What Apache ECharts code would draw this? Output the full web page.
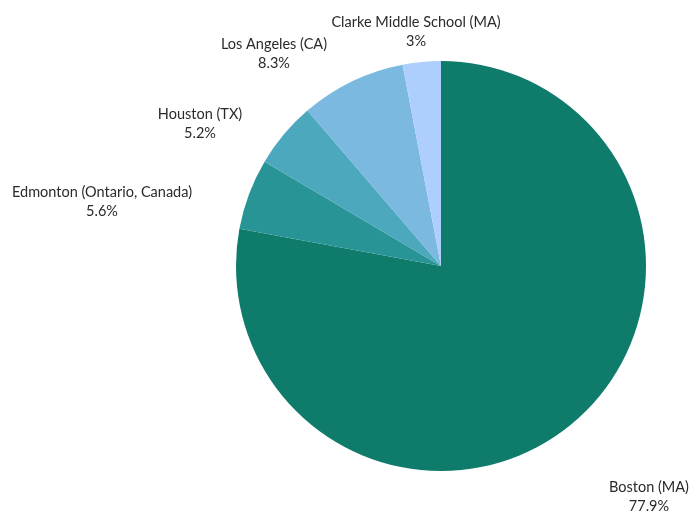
<!DOCTYPE html>
<html>
<head>
<meta charset="utf-8">
<script src="https://cdn.jsdelivr.net/npm/echarts@6/dist/echarts.min.js"></script>
<style>
html,body{margin:0;padding:0;background:#fff;}
#chart{width:697px;height:513px;}
</style>
</head>
<body>
<div id="chart"></div>
<script>
// Data
const categories = ['Boston (MA)', 'Edmonton (Ontario, Canada)', 'Houston (TX)', 'Los Angeles (CA)', 'Clarke Middle School (MA)'];
const values = [77.9, 5.6, 5.2, 8.3, 3];
const percentLabels = ['77.9%', '5.6%', '5.2%', '8.3%', '3%'];

// Styling (not data)
const colors = ['#0e7b6b', '#289496', '#4ba8bd', '#7cb9e0', '#aecffe'];
const labelCenters = [[649, 497], [102, 202], [200, 124], [274, 54], [416, 32]];

const chart = echarts.init(document.getElementById('chart'), null, {renderer: 'canvas'});
chart.setOption({
  animation: false,
  backgroundColor: '#ffffff',
  series: [{
    type: 'pie',
    center: [441, 266],
    radius: 205,
    startAngle: 90,
    clockwise: true,
    avoidLabelOverlap: false,
    itemStyle: {borderWidth: 0},
    emphasis: {disabled: true},
    label: {
      show: true,
      position: 'outside',
      formatter: p => p.name + '\n' + percentLabels[p.dataIndex],
      fontFamily: 'Lato',
      fontSize: 14.5,
      lineHeight: 19,
      color: '#2a2a2a',
      align: 'center'
    },
    labelLine: {show: false},
    labelLayout: function (params) {
      const c = labelCenters[params.dataIndex];
      return {x: c[0], y: c[1], align: 'center', verticalAlign: 'middle'};
    },
    data: categories.map((n, i) => ({name: n, value: values[i], itemStyle: {color: colors[i]}}))
  }]
});
</script>
</body>
</html>
